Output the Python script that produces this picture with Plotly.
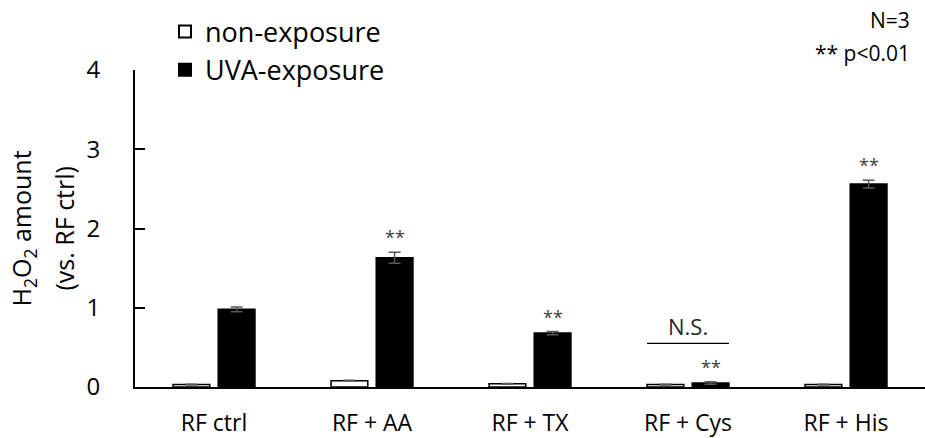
import plotly.graph_objects as go

categories = ["RF ctrl", "RF + AA", "RF + TX", "RF + Cys", "RF + His"]
non_exposure = [0.03, 0.08, 0.04, 0.03, 0.03]
non_exposure_err = [0.005, 0.005, 0.005, 0.005, 0.005]
uva_exposure = [0.98, 1.63, 0.68, 0.05, 2.56]
uva_exposure_err = [0.03, 0.07, 0.02, 0.015, 0.05]
uva_sig = ["", "**", "**", "**", "**"]
y_ticks = [0, 1, 2, 3, 4]

FONT = "Open Sans"
BARGAP = 0.428
GROUPGAP = 0.187
slot = (1 - BARGAP) / 2
xs = list(range(len(categories)))

fig = go.Figure()
fig.add_trace(go.Bar(
    x=xs, y=non_exposure, name="non-exposure",
    marker=dict(color="white", line=dict(color="black", width=1.5)),
    error_y=dict(type="data", array=non_exposure_err, color="#595959", thickness=1.5, width=6),
    legendgroup="a",
))
fig.add_trace(go.Bar(
    x=xs, y=uva_exposure, name="UVA-exposure",
    marker=dict(color="black", line=dict(color="black", width=1.5)),
    error_y=dict(type="data", array=uva_exposure_err, color="#595959", thickness=1.5, width=6),
    legendgroup="b",
))

annotations = []
for i, (v, e, s) in enumerate(zip(uva_exposure, uva_exposure_err, uva_sig)):
    if s:
        annotations.append(dict(x=i + slot / 2, y=v + e, xref="x", yref="y", text=s,
                                showarrow=False, yanchor="bottom", yshift=1,
                                font=dict(family=FONT, size=18, color="#404040")))

# N.S. bracket over the RF + Cys group
cys = categories.index("RF + Cys")
left = cys - slot + slot * GROUPGAP / 2
right = cys + slot - slot * GROUPGAP / 2
fig.add_shape(type="line", xref="x", yref="y", x0=left, x1=right, y0=0.55, y1=0.55,
              line=dict(color="black", width=1.2))
annotations.append(dict(x=cys, y=0.55, xref="x", yref="y", text="N.S.", showarrow=False,
                        yanchor="bottom", yshift=0, font=dict(family=FONT, size=22, color="#262626")))

annotations += [
    dict(x=0.9835, y=1.158, xref="paper", yref="paper", text="N=3", showarrow=False,
         xanchor="right", yanchor="middle", font=dict(family=FONT, size=21, color="black")),
    dict(x=0.9835, y=1.054, xref="paper", yref="paper", text="** p<0.01", showarrow=False,
         xanchor="right", yanchor="middle", font=dict(family=FONT, size=21, color="black")),
    dict(x=-0.1418, y=0.5, xref="paper", yref="paper", text="H<sub>2</sub>O<sub>2</sub> amount",
         showarrow=False, textangle=-90, xanchor="center", yanchor="middle",
         font=dict(family=FONT, size=25, color="black")),
    dict(x=-0.0911, y=0.5, xref="paper", yref="paper", text="(vs. RF ctrl)",
         showarrow=False, textangle=-90, xanchor="center", yanchor="middle",
         font=dict(family=FONT, size=25, color="black")),
]

fig.update_layout(
    width=925, height=438,
    margin=dict(l=135, r=0, t=70, b=51, autoexpand=False),
    paper_bgcolor="white", plot_bgcolor="white",
    barmode="group", bargap=BARGAP, bargroupgap=GROUPGAP,
    font=dict(family=FONT, size=24, color="black"),
    showlegend=True,
    legend=dict(x=0.038, y=1.197, xanchor="left", yanchor="top",
                font=dict(family=FONT, size=27, color="black"),
                bgcolor="rgba(0,0,0,0)", tracegroupgap=5, traceorder="normal",
                itemsizing="constant"),
    annotations=annotations,
)
fig.update_xaxes(range=[-0.5, 4.5], tickvals=xs, ticktext=categories, showline=True,
                 linecolor="black", linewidth=2, ticks="", showgrid=False, zeroline=False,
                 tickfont=dict(family=FONT, size=23, color="black"), ticklabelstandoff=14)
fig.update_yaxes(range=[0, 4], tickvals=y_ticks, showline=True, linecolor="black", linewidth=2,
                 ticks="inside", ticklen=10, tickwidth=2, tickcolor="black", showgrid=False,
                 zeroline=False, tickfont=dict(family=FONT, size=24, color="black"),
                 ticklabelstandoff=28)

fig.write_html("out.html")
